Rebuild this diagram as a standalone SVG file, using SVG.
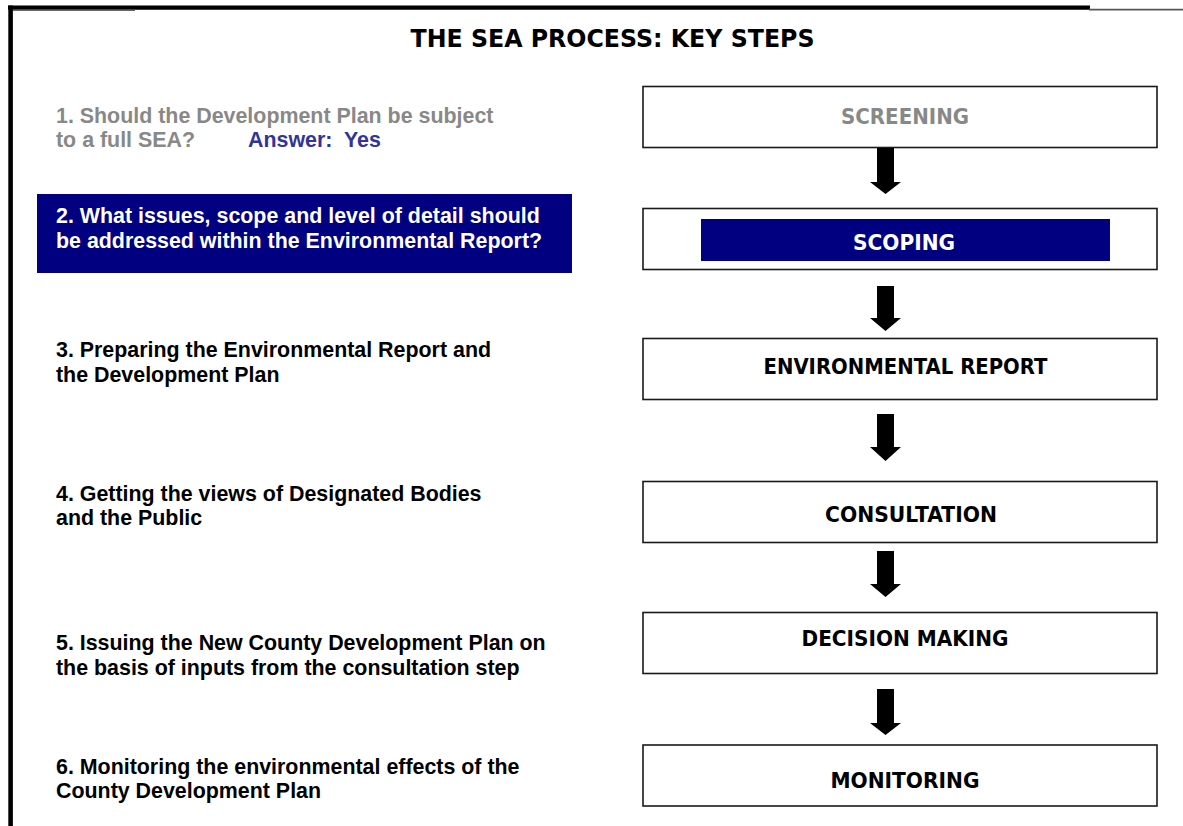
<svg xmlns="http://www.w3.org/2000/svg" width="1183" height="826" viewBox="0 0 1183 826">
<style>
.box{fill:#fff;stroke:#1a1a1a;stroke-width:1.6}
.lbl{font-family:"DejaVu Sans",Verdana,sans-serif;font-weight:bold;font-size:20.5px;text-anchor:middle;fill:#000}
.q{font-family:"Liberation Sans",Arial,sans-serif;font-weight:bold;font-size:21.4px;fill:#000}
.arrow{fill:#000}
</style>
<rect x="0" y="0" width="1183" height="826" fill="#fff"/>
<g id="frame">
<line x1="8" y1="7.6" x2="1090" y2="7.6" stroke="#000" stroke-width="4.4"/>
<line x1="1089" y1="9.6" x2="1183" y2="9.6" stroke="#555" stroke-width="1.8"/>
<line x1="13" y1="10.3" x2="135" y2="10.3" stroke="#666" stroke-width="1.2"/>
<line x1="10.6" y1="5.4" x2="10.6" y2="826" stroke="#000" stroke-width="4.6"/>
</g>
<text id="title" x="612.5" y="46.5" font-family="'DejaVu Sans',Verdana,sans-serif" font-weight="bold" font-size="25" text-anchor="middle" textLength="404" lengthAdjust="spacingAndGlyphs">THE SEA PROCESS: KEY STEPS</text>
<g id="q1">
<text class="q" x="56" y="123" style="fill:#888888">1. Should the Development Plan be subject</text>
<text class="q" x="56" y="147" style="fill:#888888">to a full SEA?</text>
<text class="q" x="248" y="147" style="fill:#333399" xml:space="preserve">Answer:  Yes</text>
</g>
<g id="q2">
<rect x="37" y="194" width="535" height="79" fill="#000080"/>
<text class="q" x="56" y="223" style="fill:#fff">2. What issues, scope and level of detail should</text>
<text class="q" x="56" y="248" style="fill:#fff">be addressed within the Environmental Report?</text>
</g>
<g id="q3">
<text class="q" x="56" y="357">3. Preparing the Environmental Report and</text>
<text class="q" x="56" y="382">the Development Plan</text>
</g>
<g id="q4">
<text class="q" x="56" y="500.5">4. Getting the views of Designated Bodies</text>
<text class="q" x="56" y="524.5">and the Public</text>
</g>
<g id="q5">
<text class="q" x="56" y="650">5. Issuing the New County Development Plan on</text>
<text class="q" x="56" y="675">the basis of inputs from the consultation step</text>
</g>
<g id="q6">
<text class="q" x="56" y="774">6. Monitoring the environmental effects of the</text>
<text class="q" x="56" y="798">County Development Plan</text>
</g>
<g id="screening">
<rect class="box" x="643" y="86.5" width="514" height="61"/>
<text class="lbl" x="905" y="124" style="fill:#888888" textLength="128" lengthAdjust="spacingAndGlyphs">SCREENING</text>
</g>
<g id="scoping">
<rect class="box" x="643" y="208.5" width="514" height="61"/>
<rect x="701" y="219" width="409" height="42" fill="#000080"/>
<text class="lbl" x="904" y="250" style="fill:#fff" textLength="102" lengthAdjust="spacingAndGlyphs">SCOPING</text>
</g>
<g id="envreport">
<rect class="box" x="643" y="338.5" width="514" height="61"/>
<text class="lbl" x="905.5" y="374" textLength="284" lengthAdjust="spacingAndGlyphs">ENVIRONMENTAL REPORT</text>
</g>
<g id="consultation">
<rect class="box" x="643" y="481.5" width="514" height="61"/>
<text class="lbl" x="911" y="521.5" textLength="172" lengthAdjust="spacingAndGlyphs">CONSULTATION</text>
</g>
<g id="decision">
<rect class="box" x="643" y="612.5" width="514" height="61"/>
<text class="lbl" x="905" y="646" textLength="207" lengthAdjust="spacingAndGlyphs">DECISION MAKING</text>
</g>
<g id="monitoring">
<rect class="box" x="643" y="745" width="514" height="61"/>
<text class="lbl" x="905" y="788" textLength="149" lengthAdjust="spacingAndGlyphs">MONITORING</text>
</g>
<g id="connectors">
<path class="arrow" d="M877,148 H894 V182 H901 L885.5,194 L870,182 H877 Z"/>
<path class="arrow" d="M877,286 H894 V318 H901 L885.5,331 L870,318 H877 Z"/>
<path class="arrow" d="M877,414 H894 V447 H901 L885.5,461 L870,447 H877 Z"/>
<path class="arrow" d="M877,551 H894 V584 H901 L885.5,597 L870,584 H877 Z"/>
<path class="arrow" d="M877,689 H894 V723 H901 L885.5,735 L870,723 H877 Z"/>
</g>
</svg>
